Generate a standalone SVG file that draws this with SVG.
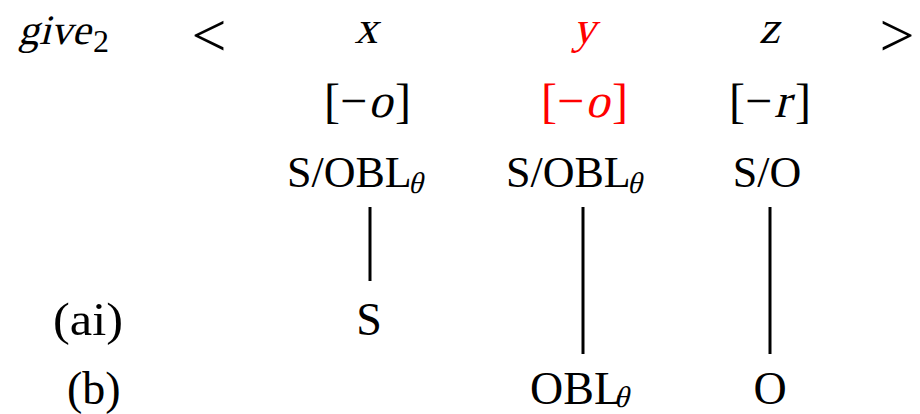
<svg xmlns="http://www.w3.org/2000/svg" width="920" height="414" viewBox="0 0 920 414">
<style>
text{font-family:"Liberation Serif","Times New Roman",serif;fill:#000}
.r1{font-size:46px}
.g{font-size:42px}
.r2{font-size:48px}
.r3{font-size:44px}
.r4{font-size:46px}
.sub{font-size:32px}
.th{font-size:30px}
.op{font-size:62px}
.red{fill:#ff0000}
.c{text-anchor:middle}
.ln{stroke:#000;stroke-width:3;fill:none}
</style>
<rect width="920" height="414" fill="#fff"/>
<g id="header">
<g transform="translate(18,44) skewX(-14)"><text class="g">give</text></g>
<text class="sub" x="93" y="52">2</text>
<text class="op c" x="209" y="56">&lt;</text>
<text class="op c" x="897" y="56">&gt;</text>
</g>
<g id="node-x">
<g transform="translate(366,43) skewX(-14)"><text class="r1 c">x</text></g>
<text class="r2" x="324" y="117">[−</text>
<g transform="translate(368,117) skewX(-14)"><text class="r2">o</text></g>
<text class="r2" x="395" y="117">]</text>
<text class="r3" x="287" y="187">S/OBL</text>
<g transform="translate(408,193) skewX(-14)"><text class="th">θ</text></g>
</g>
<g id="node-y">
<g transform="translate(584,43) skewX(-14)"><text class="r1 c red">y</text></g>
<text class="r2 red" x="541" y="117">[−</text>
<g transform="translate(585,117) skewX(-14)"><text class="r2 red">o</text></g>
<text class="r2 red" x="612" y="117">]</text>
<text class="r3" x="506" y="187">S/OBL</text>
<g transform="translate(627,193) skewX(-14)"><text class="th">θ</text></g>
</g>
<g id="node-z">
<g transform="translate(769,43) skewX(-14)"><text class="r1 c">z</text></g>
<text class="r2" x="729" y="117">[−</text>
<g transform="translate(774,117) skewX(-14)"><text class="r2">r</text></g>
<text class="r2" x="795" y="117">]</text>
<text class="r3 c" x="767" y="187">S/O</text>
</g>
<g id="row-ai">
<text class="r4" x="53" y="335" textLength="70" lengthAdjust="spacingAndGlyphs">(ai)</text>
<text class="r4 c" x="369" y="335">S</text>
</g>
<g id="row-b">
<text class="r4" x="67" y="404">(b)</text>
<text class="r4" x="530" y="404">OBL</text>
<g transform="translate(614,407) skewX(-14)"><text class="th">θ</text></g>
<text class="r4 c" x="770" y="404">O</text>
</g>
<g id="connectors">
<line class="ln" x1="370" y1="207" x2="370" y2="281"/>
<line class="ln" x1="583" y1="207" x2="583" y2="354"/>
<line class="ln" x1="770" y1="207" x2="770" y2="354"/>
</g>
</svg>
